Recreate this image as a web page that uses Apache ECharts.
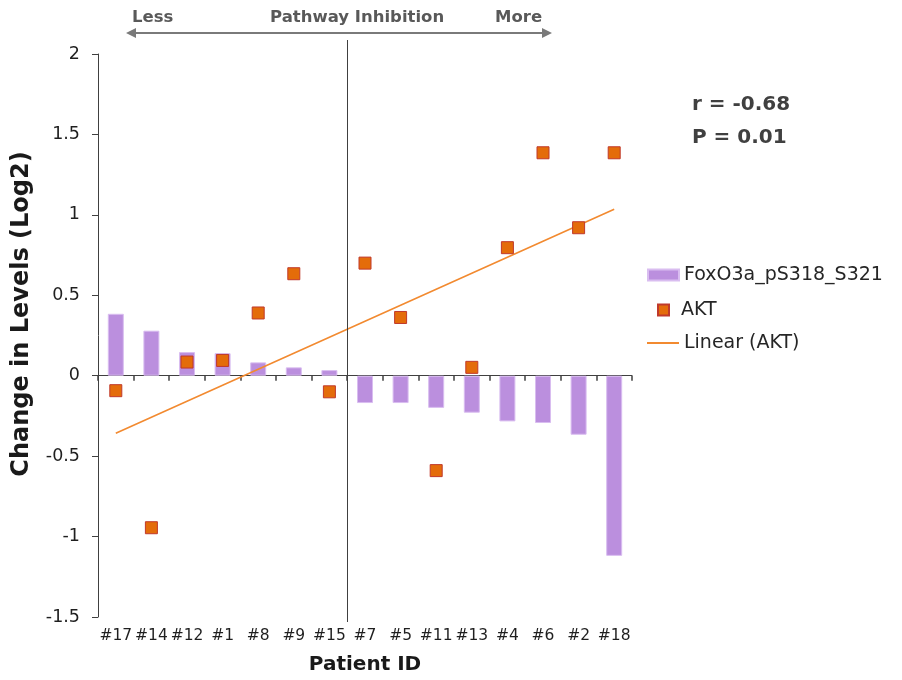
<!DOCTYPE html>
<html>
<head>
<meta charset="utf-8">
<script src="https://cdn.jsdelivr.net/npm/echarts@6/dist/echarts.min.js"></script>
<style>
  html, body { margin: 0; padding: 0; background: #ffffff; }
  #chart { width: 902px; height: 680px; }
</style>
</head>
<body>
<div id="chart"></div>
<script>
// Patients ordered from least to most pathway inhibition
var patients = ['#17', '#14', '#12', '#1', '#8', '#9', '#15', '#7', '#5', '#11', '#13', '#4', '#6', '#2', '#18'];
// Change in FoxO3a_pS318_S321 levels (log2)
var foxo = [0.385, 0.28, 0.147, 0.14, 0.083, 0.052, 0.035, -0.17, -0.17, -0.20, -0.23, -0.284, -0.294, -0.367, -1.12];
// Change in AKT levels (log2)
var akt = [-0.093, -0.945, 0.085, 0.095, 0.39, 0.634, -0.1, 0.70, 0.362, -0.59, 0.052, 0.796, 1.386, 0.92, 1.386];
var yTicks = { min: -1.5, max: 2, step: 0.5 };
var statLines = ['r = -0.68', 'P = 0.01'];

// Least-squares linear trend of AKT against patient position
function linearTrend(values) {
  var n = values.length, sx = 0, sy = 0, sxx = 0, sxy = 0;
  for (var i = 0; i < n; i++) {
    var x = i + 1;
    sx += x; sy += values[i]; sxx += x * x; sxy += x * values[i];
  }
  var slope = (n * sxy - sx * sy) / (n * sxx - sx * sx);
  var icpt = (sy - slope * sx) / n;
  return values.map(function (_, i) { return +(icpt + slope * (i + 1)).toFixed(4); });
}
var aktTrend = linearTrend(akt);

var FONT = 'DejaVu Sans';
var chart = echarts.init(document.getElementById('chart'), null, { renderer: 'canvas' });

var option = {
  backgroundColor: '#ffffff',
  animation: false,
  textStyle: { fontFamily: FONT },
  grid: { left: 98, right: 270, top: 54, bottom: 63, containLabel: false },
  xAxis: [
    {
      type: 'category',
      data: patients,
      position: 'bottom',
      axisLine: { show: false, onZero: false },
      axisTick: { show: false },
      axisLabel: { color: '#1f1f1f', fontSize: 15.5, fontFamily: FONT, margin: 11, interval: 0 },
      name: 'Patient ID',
      nameLocation: 'middle',
      nameGap: 38,
      nameTextStyle: { color: '#1a1a1a', fontSize: 20, fontWeight: 'bold', fontFamily: FONT },
      splitLine: { show: false }
    },
    {
      type: 'category',
      data: patients,
      position: 'bottom',
      axisLine: { show: true, onZero: true, lineStyle: { color: '#404040', width: 1 } },
      axisTick: { show: true, length: 5, lineStyle: { color: '#404040', width: 1.5 } },
      axisLabel: { show: false },
      splitLine: { show: false }
    }
  ],
  yAxis: {
    type: 'value',
    min: yTicks.min,
    max: yTicks.max,
    interval: yTicks.step,
    axisLine: { show: true, lineStyle: { color: '#404040', width: 1 } },
    axisTick: { show: true, length: 6, lineStyle: { color: '#404040', width: 1 } },
    axisLabel: { color: '#1f1f1f', fontSize: 17.5, fontFamily: FONT, margin: 18 },
    splitLine: { show: false }
  },
  legend: [
    {
      orient: 'vertical', left: 647, top: 265, padding: 0,
      itemWidth: 31, itemHeight: 11, itemGap: 0, icon: 'rect',
      data: ['FoxO3a_pS318_S321'],
      textStyle: { color: '#262626', fontSize: 19, fontFamily: FONT, lineHeight: 20, padding: [0, 0, 0, 0] }
    },
    {
      orient: 'vertical', left: 657, top: 300, padding: 0,
      itemWidth: 11, itemHeight: 11, itemGap: 0,
      data: ['AKT'],
      textStyle: { color: '#262626', fontSize: 19, fontFamily: FONT, lineHeight: 20, padding: [0, 0, 0, 7] }
    },
    {
      orient: 'vertical', left: 647, top: 333, padding: 0,
      itemWidth: 32, itemHeight: 2, itemGap: 0, icon: 'rect',
      data: ['Linear (AKT)'],
      textStyle: { color: '#262626', fontSize: 19, fontFamily: FONT, lineHeight: 20, padding: [0, 0, 0, 0] }
    }
  ],
  series: [
    {
      name: 'FoxO3a_pS318_S321',
      type: 'bar',
      xAxisIndex: 0,
      data: foxo,
      barWidth: 16,
      itemStyle: { color: '#bb8fde', borderColor: '#d9bdf0', borderWidth: 1, opacity: 1 },
      z: 2
    },
    {
      name: 'Linear (AKT)',
      type: 'line',
      xAxisIndex: 0,
      data: aktTrend,
      showSymbol: false,
      symbol: 'none',
      lineStyle: { color: '#f28a30', width: 1.6 },
      itemStyle: { color: '#f28a30' },
      z: 3
    },
    {
      name: 'AKT',
      type: 'scatter',
      xAxisIndex: 0,
      data: akt,
      symbol: 'rect',
      symbolSize: 12,
      itemStyle: { color: '#e46c0a', borderColor: '#c0392b', borderWidth: 1, opacity: 1 },
      z: 4
    }
  ]
};
chart.setOption(option);

// Divider between the two groups, plus annotation texts
var leftCenter = chart.convertToPixel({ xAxisIndex: 0 }, patients[6]);
var rightCenter = chart.convertToPixel({ xAxisIndex: 0 }, patients[7]);
var dividerX = Math.round((leftCenter + rightCenter) / 2) + 0.5;
var arrowY = 33, arrowL = 126, arrowR = 552;

chart.setOption({
  graphic: [
    {
      type: 'line', silent: true, z: 10,
      shape: { x1: dividerX, y1: 40, x2: dividerX, y2: 622 },
      style: { stroke: '#404040', lineWidth: 1 }
    },
    {
      type: 'line', silent: true, z: 10,
      shape: { x1: arrowL + 6, y1: arrowY, x2: arrowR - 6, y2: arrowY },
      style: { stroke: '#7a7a7a', lineWidth: 2 }
    },
    {
      type: 'polygon', silent: true, z: 10,
      shape: { points: [[arrowL, arrowY], [arrowL + 10, arrowY - 5], [arrowL + 10, arrowY + 5]] },
      style: { fill: '#7a7a7a' }
    },
    {
      type: 'polygon', silent: true, z: 10,
      shape: { points: [[arrowR, arrowY], [arrowR - 10, arrowY - 5], [arrowR - 10, arrowY + 5]] },
      style: { fill: '#7a7a7a' }
    },
    {
      type: 'text', silent: true, z: 10, left: 132, top: 9,
      style: { text: 'Less', fill: '#595959', font: 'bold 16.5px "DejaVu Sans"' }
    },
    {
      type: 'text', silent: true, z: 10, left: 270, top: 9,
      style: { text: 'Pathway Inhibition', fill: '#595959', font: 'bold 16.5px "DejaVu Sans"' }
    },
    {
      type: 'text', silent: true, z: 10, left: 495, top: 9,
      style: { text: 'More', fill: '#595959', font: 'bold 16.5px "DejaVu Sans"' }
    },
    {
      type: 'text', silent: true, z: 10, left: 692, top: 95,
      style: { text: statLines[0], fill: '#404040', font: 'bold 20px "DejaVu Sans"' }
    },
    {
      type: 'text', silent: true, z: 10, left: 692, top: 128,
      style: { text: statLines[1], fill: '#404040', font: 'bold 20px "DejaVu Sans"' }
    },
    {
      type: 'text', silent: true, z: 10,
      x: 22, y: 314, rotation: Math.PI / 2,
      style: {
        text: 'Change in Levels (Log2)', fill: '#1a1a1a',
        font: 'bold 24px "DejaVu Sans"', align: 'center', verticalAlign: 'middle'
      }
    }
  ]
});
</script>
</body>
</html>
